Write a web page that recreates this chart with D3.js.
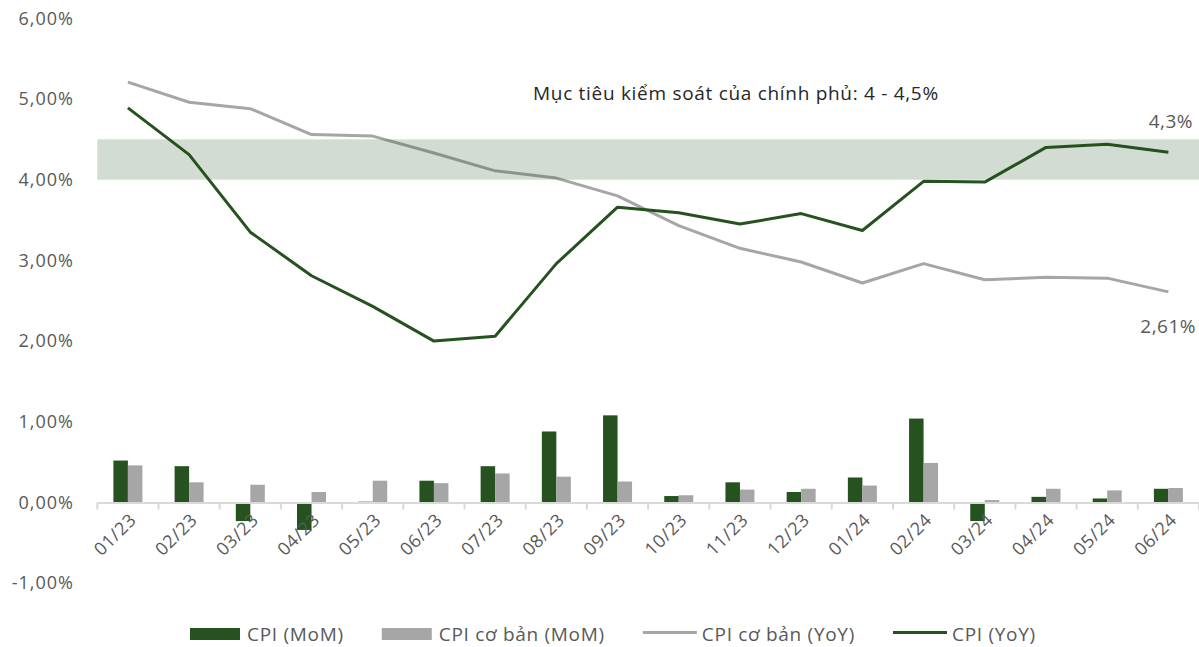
<!DOCTYPE html>
<html>
<head>
<meta charset="utf-8">
<script src="https://cdn.jsdelivr.net/npm/d3@7"></script>
<style>
  html, body { margin: 0; padding: 0; background: #fff; }
  svg { display: block; font-family: "Open Sans", "Noto Sans", sans-serif; }
</style>
</head>
<body>
<svg id="chart" width="1199" height="647"></svg>
<script>
// Monthly inflation, Vietnam, 01/2023 – 06/2024 (%)
const months = ["01/23","02/23","03/23","04/23","05/23","06/23","07/23","08/23","09/23",
                "10/23","11/23","12/23","01/24","02/24","03/24","04/24","05/24","06/24"];
const cpiMoM  = [0.52, 0.45, -0.23, -0.34, 0.01, 0.27, 0.45, 0.88, 1.08, 0.08, 0.25, 0.13, 0.31, 1.04, -0.23, 0.07, 0.05, 0.17];
const coreMoM = [0.46, 0.25, 0.22, 0.13, 0.27, 0.24, 0.36, 0.32, 0.26, 0.09, 0.16, 0.17, 0.21, 0.49, 0.03, 0.17, 0.15, 0.18];
const coreYoY = [5.21, 4.96, 4.88, 4.56, 4.54, 4.33, 4.11, 4.02, 3.80, 3.43, 3.15, 2.98, 2.72, 2.96, 2.76, 2.79, 2.78, 2.61];
const cpiYoY  = [4.89, 4.31, 3.35, 2.81, 2.43, 2.00, 2.06, 2.96, 3.66, 3.59, 3.45, 3.58, 3.37, 3.98, 3.97, 4.40, 4.44, 4.34];
const yTicks  = [-1, 0, 1, 2, 3, 4, 5, 6];
const targetBand = [4, 4.5];
const targetLabel = "Mục tiêu kiểm soát của chính phủ: 4 - 4,5%";
const seriesNames = ["CPI (MoM)", "CPI cơ bản (MoM)", "CPI cơ bản (YoY)", "CPI (YoY)"];

const GREEN = "#25521f";
const GREY = "#a6a6a6";
const TEXT = "#595959";

const svg = d3.select("#chart");

const x = d3.scaleBand().domain(months).range([97.3, 1199]);
const y = d3.scaleLinear().domain([-1, 6]).range([583.2, 18.3]);
const xGroup = d3.scaleBand().domain(["cpi", "core"]).range([0, x.bandwidth() * 0.474]);
const groupOffset = (x.bandwidth() - xGroup.range()[1]) / 2;
const cx = m => x(m) + x.bandwidth() / 2;

const fmt = (v, d) => v.toFixed(d).replace(".", ",") + "%";

// y-axis labels (no axis line, no gridlines)
const yAxis = d3.axisLeft(y).tickValues(yTicks).tickSize(0).tickPadding(0)
  .tickFormat(v => fmt(v, 2));
svg.append("g").attr("transform", "translate(74,0)").call(yAxis)
  .call(g => g.select(".domain").remove())
  .call(g => g.selectAll("text").attr("fill", TEXT).attr("font-size", 18)
    .attr("letter-spacing", 1).attr("font-family", "'Open Sans', sans-serif"));

// monthly bars
const bars = svg.append("g");
months.forEach((m, i) => {
  [["cpi", cpiMoM[i], GREEN], ["core", coreMoM[i], GREY]].forEach(([k, v, c]) => {
    bars.append("rect")
      .attr("x", x(m) + groupOffset + xGroup(k))
      .attr("width", xGroup.bandwidth())
      .attr("y", Math.min(y(v), y(0)))
      .attr("height", Math.abs(y(v) - y(0)))
      .attr("fill", c);
  });
});

// zero axis with category ticks
const xAxis = d3.axisBottom(x).tickSize(0).tickFormat("");
const axisG = svg.append("g").attr("transform", `translate(0,${y(0)})`).call(xAxis);
axisG.select(".domain").attr("stroke", "#d9d9d9").attr("stroke-width", 2);
axisG.selectAll(".tick").remove();
const bounds = months.map(m => x(m)).concat([x.range()[1]]);
axisG.selectAll("line.sep").data(bounds).join("line")
  .attr("x1", d => d).attr("x2", d => d).attr("y1", 0).attr("y2", 7)
  .attr("stroke", "#d9d9d9").attr("stroke-width", 2);

// rotated month labels
svg.append("g").selectAll("text").data(months).join("text")
  .attr("transform", m => `translate(${cx(m) + 5},${y(0) + 14}) rotate(-45)`)
  .attr("text-anchor", "end")
  .attr("dy", "0.35em")
  .attr("font-size", 18)
  .attr("letter-spacing", 0.6)
  .attr("fill", TEXT)
  .text(m => m);

// YoY lines
const line = d3.line().x((d, i) => cx(months[i])).y(d => y(d));
svg.append("path").datum(coreYoY).attr("d", line)
  .attr("fill", "none").attr("stroke", GREY).attr("stroke-width", 3).attr("stroke-linejoin", "round");
svg.append("path").datum(cpiYoY).attr("d", line)
  .attr("fill", "none").attr("stroke", GREEN).attr("stroke-width", 3).attr("stroke-linejoin", "round");

// government target range, tinted over the lines
svg.append("rect")
  .attr("x", x.range()[0]).attr("width", x.range()[1] - x.range()[0])
  .attr("y", y(targetBand[1])).attr("height", y(targetBand[0]) - y(targetBand[1]))
  .attr("fill", GREEN).attr("fill-opacity", 0.2);

svg.append("text").attr("x", 533).attr("y", y(5) + 0.5)
  .attr("font-size", 19).attr("letter-spacing", 0.7).attr("fill", "#262626").text(targetLabel);

// end-of-series labels
const last = months.length - 1;
svg.append("text").attr("x", 1193).attr("y", y(cpiYoY[last]) - 24)
  .attr("text-anchor", "end").attr("font-size", 19).attr("letter-spacing", 0.5).attr("fill", TEXT)
  .text(fmt(cpiYoY[last], 1));
svg.append("text").attr("x", 1196).attr("y", y(coreYoY[last]) + 41)
  .attr("text-anchor", "end").attr("font-size", 19).attr("letter-spacing", 0.5).attr("fill", TEXT)
  .text(fmt(coreYoY[last], 2));

// legend
const legend = svg.append("g");
const kinds = ["rect", "rect", "line", "line"];
const colors = [GREEN, GREY, GREY, GREEN];
let lx = 190;
const ly = 634;
seriesNames.forEach((name, i) => {
  if (kinds[i] === "rect") {
    legend.append("rect").attr("x", lx).attr("y", ly - 6).attr("width", 50).attr("height", 12)
      .attr("fill", colors[i]);
    lx += 57;
  } else {
    legend.append("line").attr("x1", lx).attr("x2", lx + 54).attr("y1", ly - 1.5).attr("y2", ly - 1.5)
      .attr("stroke", colors[i]).attr("stroke-width", 3);
    lx += 59;
  }
  const t = legend.append("text").attr("x", lx).attr("y", ly).attr("dy", "0.35em")
    .attr("font-size", 19).attr("letter-spacing", 0.7).attr("fill", TEXT).text(name);
  lx += t.node().getComputedTextLength() + 38;
});
</script>
</body>
</html>
